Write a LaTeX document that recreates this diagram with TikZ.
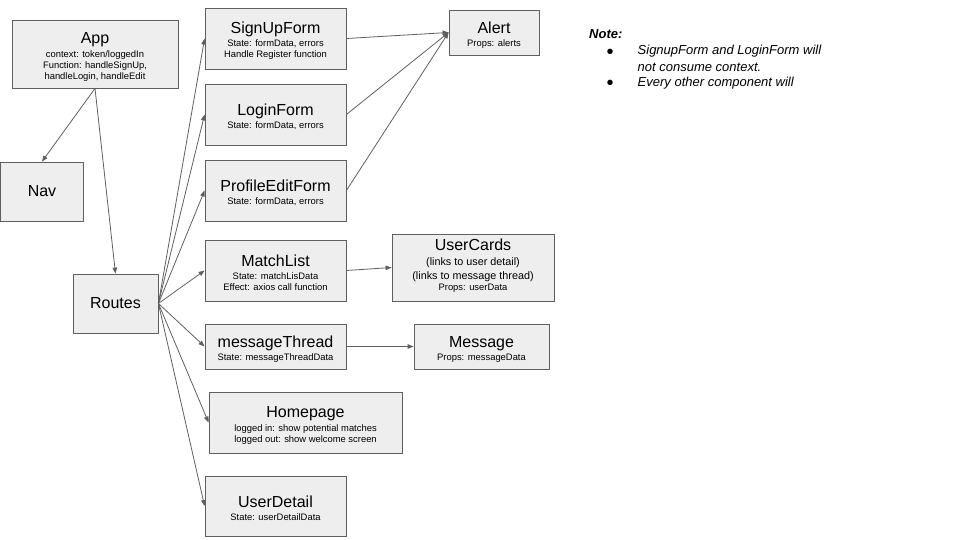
\documentclass[tikz,border=0pt]{standalone}
\usepackage{fontspec}
\setmainfont{Liberation Sans}
\usetikzlibrary{arrows.meta}

\definecolor{boxfill}{HTML}{EEEEEE}
\definecolor{boxline}{HTML}{5F5F5F}
\definecolor{linkline}{HTML}{5F5F5F}

\newcommand{\heading}[1]{{\fontsize{16}{18}\selectfont\rule{0pt}{16.5pt}#1}}
\newcommand{\bigsub}[1]{{\fontsize{10.8}{13}\selectfont #1}}

\begin{document}
\begin{tikzpicture}[x=1pt, y=-1pt,
	comp/.style 2 args={draw=boxline, fill=boxfill, line width=0.8pt, inner sep=0pt, align=center,
		minimum width=#1, minimum height=#2, font=\fontsize{9.4}{11}\selectfont},
	solo/.style={font=\fontsize{16}{18}\selectfont},
	link/.style={draw=linkline, line width=0.8pt, -{Triangle[length=6pt, width=4.5pt]}},
	notetext/.style={anchor=west, inner sep=0pt, font=\fontsize{13}{15}\selectfont\itshape},
	notebullet/.style={inner sep=0pt, font=\fontsize{20}{22}\selectfont}]

\useasboundingbox (0,0) rectangle (960,540);

% Define components.

	%top level
	\node [comp={166}{68}] (app) at (95, 54) {\heading{App}\\[3pt] context: token/loggedIn\\ Function: handleSignUp,\\ handleLogin, handleEdit};
	\node [comp={83}{59}, solo] (nav) at (42, 191.5) {Nav};
	\node [comp={85}{59}, solo] (routes) at (115.5, 303.5) {Routes};

	%forms
	\node [comp={141}{61}] (signup) at (275.5, 38.5) {\heading{SignUpForm}\\[2pt] State: formData, errors\\ Handle Register function};
	\node [comp={141}{61}] (login) at (275.5, 114.5) {\heading{LoginForm}\\[2pt] State: formData, errors};
	\node [comp={141}{61}] (profile) at (275.5, 190.5) {\heading{ProfileEditForm}\\[2pt] State: formData, errors};
	\node [comp={90}{45}] (alert) at (494, 32.5) {\heading{Alert}\\[2pt] Props: alerts};

	%pages
	\node [comp={141}{61}] (matches) at (275.5, 270.5) {\heading{MatchList}\\[2pt] State: matchLisData\\ Effect: axios call function};
	\node [comp={162}{67}] (cards) at (473, 267.5) {{\fontsize{16}{18}\selectfont UserCards}\\[4pt] \bigsub{(links to user detail)}\\[3pt] \bigsub{(links to message thread)}\\ Props: userData\rule[-6pt]{0pt}{6pt}};
	\node [comp={141}{45}] (thread) at (275.5, 346.5) {\heading{messageThread}\\[2pt] State: messageThreadData};
	\node [comp={135}{45}] (message) at (481.5, 346.5) {\heading{Message}\\[2pt] Props: messageData};
	\node [comp={193}{61}] (home) at (305.5, 422.5) {\heading{Homepage}\\[3pt] logged in: show potential matches\\ logged out: show welcome screen};
	\node [comp={141}{60}] (detail) at (275.5, 506) {\heading{UserDetail}\\[2.5pt] State: userDetailData};

% Draw links.

	\draw [link] (app.south) -- (nav.north);
	\draw [link] (app.south) -- (routes.north);

	\draw [link] (routes.east) -- (signup.west);
	\draw [link] (routes.east) -- (login.west);
	\draw [link] (routes.east) -- (profile.west);
	\draw [link] (routes.east) -- (matches.west);
	\draw [link] (routes.east) -- (thread.west);
	\draw [link] (routes.east) -- (home.west);
	\draw [link] (routes.east) -- (detail.west);

	\draw [link] (signup.east) -- (alert.west);
	\draw [link] (login.east) -- (alert.west);
	\draw [link] (profile.east) -- (alert.west);

	\draw [link] (matches.east) -- (cards.west);
	\draw [link] (thread.east) -- (message.west);

% Draw note.

	\node [notetext, font=\fontsize{13}{15}\selectfont\bfseries\itshape] (note) at (589, 34.5) {Note:};
	\node [notebullet] (bulletA) at (610, 54) {•};
	\node [notetext] (lineA) at (637.5, 51.5) {SignupForm and LoginForm will};
	\node [notetext] (lineB) at (637.5, 67.5) {not consume context.};
	\node [notebullet] (bulletB) at (610, 85) {•};
	\node [notetext] (lineC) at (637.5, 83.5) {Every other component will};

\end{tikzpicture}
\end{document}
